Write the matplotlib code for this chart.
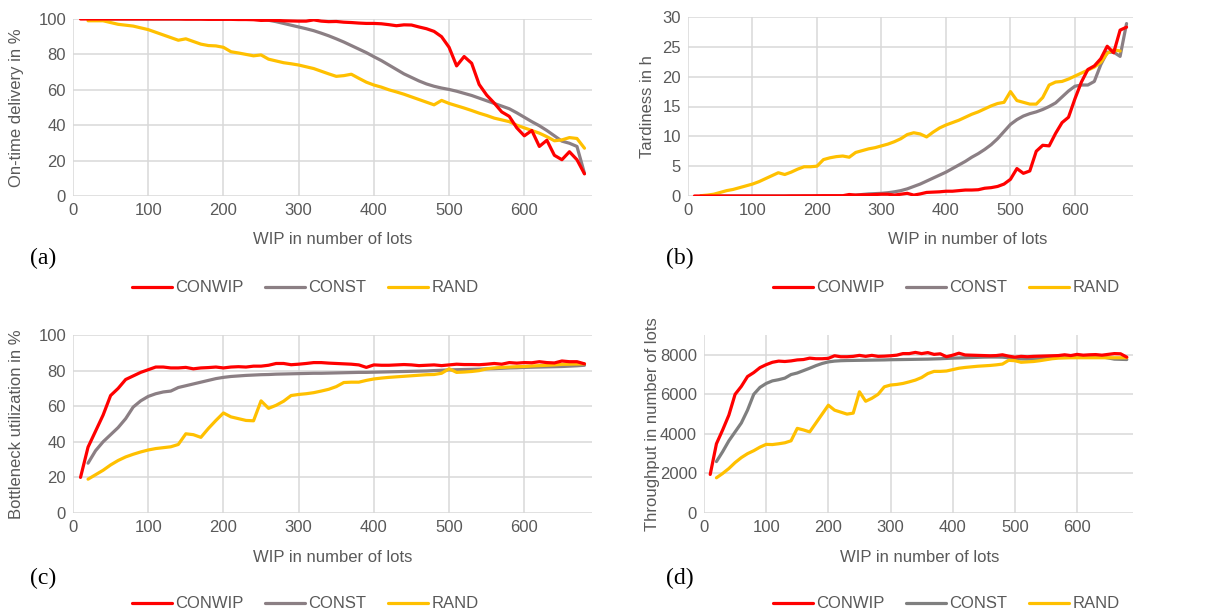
import numpy as np
import matplotlib
matplotlib.use("Agg")
import matplotlib.pyplot as plt

nan = np.nan
wip = list(range(10, 690, 10))  # 10 .. 680

# ---------------- (a) On-time delivery in % ----------------
a_conwip = [100, 100, 100, 100, 100, 100, 100, 100, 100, 100,
            100, 100, 100, 100, 99.9, 99.9, 99.9, 99.8, 99.8, 99.8,
            99.8, 99.7, 99.7, 99.6, 99.2, 99.3, 99.2, 99.0, 98.9, 98.8,
            98.8, 99.5, 98.8, 98.5, 98.6, 98.2, 98.0, 97.7, 97.5, 97.5,
            97.3, 96.8, 96.2, 96.7, 96.6, 95.5, 94.5, 93.0, 90.0, 84.0,
            73.5, 78.8, 75.0, 63.0, 57.0, 52.5, 47.5, 45.0, 38.5, 34.0,
            37.0, 28.0, 31.5, 23.0, 20.5, 25.0, 20.5, 12.5]
a_const = [nan, 100, 100, 100, 100, 100, 100, 100, 100, 100,
           100, 100, 100, 100, 100, 100, 100, 100, 100, 100,
           100.2, 100.4, 100.5, 100.5, 100.3, 99.3, 98.5, 97.5, 96.5, 95.5,
           94.5, 93.4, 92.0, 90.5, 88.8, 87.0, 85.0, 83.0, 81.0, 78.7,
           76.5, 74.0, 71.5, 69.0, 67.0, 65.0, 63.3, 62.0, 61.0, 60.2,
           59.2, 58.0, 56.8, 55.3, 53.8, 52.3, 50.8, 49.3, 47.0, 44.5,
           42.0, 39.7, 37.0, 34.0, 31.0, 29.8, 28.0, 12.8]
a_rand = [nan, 99, 99, 99, 98, 97, 96.5, 96, 95, 94,
          92.5, 91, 89.5, 88, 88.8, 87.3, 85.8, 85, 84.8, 84,
          81.5, 80.8, 80, 79.2, 79.7, 77.3, 76.3, 75.3, 74.7, 74,
          73, 72, 70.5, 69, 67.6, 68, 68.8, 66.5, 64.3, 62.7,
          61.5, 60, 58.8, 57.5, 56, 54.5, 53, 51.5, 54, 52.3,
          51, 49.7, 48.3, 46.8, 45.5, 44, 43, 42, 40, 38.5,
          37, 35.5, 33.5, 31.2, 31.7, 33, 32.5, 27]

# ---------------- (b) Tardiness in h ----------------
b_conwip = [0, 0, 0, 0, 0, 0, 0, 0, 0, 0,
            0, 0, 0, 0, 0, 0.02, 0.02, 0.03, 0.03, 0.04,
            0.05, 0.05, 0.05, 0.05, 0.25, 0.15, 0.2, 0.2, 0.25, 0.3,
            0.3, 0.15, 0.3, 0.45, 0.15, 0.35, 0.6, 0.65, 0.7, 0.8,
            0.8, 0.9, 1.0, 1.0, 1.05, 1.3, 1.4, 1.6, 2.0, 2.8,
            4.6, 3.8, 4.2, 7.5, 8.5, 8.4, 10.5, 12.3, 13.2, 16.3,
            19.1, 21.2, 21.8, 23.0, 25.1, 24.0, 27.8, 28.3]
b_const = [nan, 0, 0, 0, 0, 0, 0, 0, 0, 0,
           0, 0, 0, 0, 0, 0, 0, 0, 0, 0,
           0, 0, 0, 0.02, 0.05, 0.15, 0.25, 0.35, 0.4, 0.45,
           0.55, 0.7, 0.9, 1.2, 1.6, 2.0, 2.5, 3.0, 3.5, 4.0,
           4.6, 5.2, 5.8, 6.5, 7.1, 7.8, 8.6, 9.6, 10.8, 12.0,
           12.8, 13.4, 13.8, 14.1, 14.5, 15.0, 15.6, 16.6, 17.6, 18.4,
           18.6, 18.6, 19.2, 22.0, 24.1, 24.1, 23.4, 28.9]
b_rand = [nan, 0.05, 0.15, 0.3, 0.6, 0.9, 1.1, 1.4, 1.7, 2.0,
          2.4, 2.9, 3.4, 3.9, 3.6, 4.0, 4.5, 4.9, 4.9, 5.0,
          6.1, 6.4, 6.6, 6.7, 6.5, 7.3, 7.6, 7.9, 8.1, 8.4,
          8.7, 9.1, 9.6, 10.3, 10.6, 10.4, 9.9, 10.7, 11.4, 11.9,
          12.3, 12.7, 13.2, 13.7, 14.1, 14.6, 15.1, 15.5, 15.7, 17.5,
          16.0, 15.7, 15.4, 15.4, 16.5, 18.6, 19.1, 19.2, 19.6, 20.1,
          20.6, 21.1, 21.6, 22.4, 23.9, 24.5, 24.3, nan]

# ---------------- (c) Bottleneck utilization in % ----------------
c_conwip = [20, 37, 46, 55, 66, 70, 75, 77, 79, 80.5,
            82, 82, 81.5, 81.5, 81.8, 81, 81.5, 81.7, 82, 81.5,
            82, 82.2, 82, 82.5, 82.5, 83, 84, 84, 83.3, 83.6,
            84, 84.5, 84.5, 84.2, 84, 83.8, 83.6, 83.2, 81.8, 83.2,
            83, 83, 83.2, 83.4, 83.2, 82.8, 83, 83.2, 82.8, 83.2,
            83.6, 83.4, 83.4, 83.3, 83.6, 84, 83.6, 84.5, 84.2, 84.5,
            84.4, 85, 84.5, 84.3, 85.4, 85, 85, 83.8]
c_const = [nan, 28, 35, 40, 44, 48, 53, 59.5, 63, 65.5,
           67, 68, 68.5, 70.5, 71.5, 72.5, 73.5, 74.5, 75.5, 76.2,
           76.7, 77, 77.3, 77.5, 77.7, 77.8, 78, 78.1, 78.2, 78.3,
           78.4, 78.5, 78.5, 78.6, 78.7, 78.8, 78.9, 79, 79, 79.1,
           79.2, 79.3, 79.4, 79.5, 79.6, 79.7, 79.8, 80, 80.2, 80.4,
           80.5, 80.6, 80.7, 80.8, 81, 81.1, 81.3, 81.5, 81.6, 81.8,
           81.9, 82, 82.1, 82.2, 82.3, 82.5, 82.7, 83]
c_rand = [nan, 19, 21.5, 24, 27, 29.5, 31.5, 33, 34.3, 35.4,
          36.2, 36.7, 37.2, 38.5, 44.5, 44, 42.5, 47.5, 52, 56.2,
          54, 53, 52, 51.8, 63, 58.8, 60.5, 62.8, 66, 66.6,
          67, 67.6, 68.5, 69.5, 71, 73.3, 73.5, 73.5, 74.5, 75.3,
          75.8, 76.2, 76.5, 76.8, 77.1, 77.4, 77.7, 77.8, 78.5, 81,
          79, 79.2, 79.5, 80, 81, 81.5, 81.8, 82, 82.2, 82.3,
          82.6, 82.8, 83, 83.2, 83.5, 83.6, 83.7, 83.8]

# ---------------- (d) Throughput in number of lots ----------------
d_conwip = [1950, 3500, 4200, 4950, 6000, 6400, 6900, 7100, 7350, 7500,
            7620, 7680, 7660, 7690, 7740, 7760, 7830, 7800, 7800, 7820,
            7950, 7900, 7900, 7920, 7970, 7920, 7970, 7920, 7930, 7950,
            7980, 8060, 8060, 8120, 8060, 8110, 8020, 8050, 7900, 7980,
            8080, 7990, 7980, 7970, 7960, 7950, 7960, 8000, 7930, 7880,
            7920, 7900, 7920, 7930, 7940, 7950, 7960, 8000, 7960, 8020,
            7980, 8000, 8010, 7980, 8020, 8060, 8050, 7880]
d_const = [nan, 2600, 3100, 3650, 4100, 4550, 5200, 6000, 6350, 6550,
           6680, 6740, 6820, 7000, 7080, 7200, 7320, 7450, 7560, 7640,
           7680, 7700, 7710, 7715, 7720, 7725, 7730, 7735, 7740, 7750,
           7755, 7760, 7765, 7770, 7775, 7780, 7790, 7800, 7815, 7830,
           7840, 7850, 7860, 7870, 7880, 7885, 7885, 7880, 7850, 7800,
           7790, 7780, 7790, 7800, 7830, 7860, 7880, 7900, 7910, 7920,
           7930, 7930, 7920, 7900, 7840, 7780, 7770, 7760]
d_rand = [nan, 1780, 2000, 2250, 2550, 2800, 3000, 3150, 3330, 3470,
          3460, 3500, 3550, 3650, 4280, 4200, 4100, 4550, 5000, 5450,
          5200, 5100, 5000, 5050, 6130, 5650, 5800, 6000, 6380, 6470,
          6500, 6550, 6630, 6720, 6850, 7050, 7160, 7160, 7180, 7250,
          7320, 7360, 7390, 7420, 7440, 7460, 7490, 7530, 7720, 7700,
          7620, 7640, 7660, 7700, 7750, 7800, 7830, 7840, 7850, 7850,
          7850, 7850, 7850, 7850, 7850, 7850, 7850, 7850]

series_names = ["CONWIP", "CONST", "RAND"]
panel_letters = ["(a)", "(b)", "(c)", "(d)"]
y_labels = ["On-time delivery in %", "Tardiness in h",
            "Bottleneck utilization in %", "Throughput in number of lots"]
x_label = "WIP in number of lots"

RED = "#FF0000"
GRAY_MAUVE = "#8B7F84"
GRAY_D = "#7F7F7F"
YELLOW = "#FFC000"
GRID = "#D9D9D9"
TXT = "#595959"

W, H = 1225, 615
fig = plt.figure(figsize=(W / 100, H / 100), dpi=100)
plt.rcParams["font.family"] = ["Liberation Sans", "DejaVu Sans"]

def px_axes(left, right, top, bottom):
    return fig.add_axes([left / W, 1 - bottom / H, (right - left) / W, (bottom - top) / H])

panels = [
    dict(box=(73, 592, 19, 196), data=(a_conwip, a_const, a_rand), ylim=(0, 100),
         yticks=np.arange(0, 101, 20), gray=GRAY_MAUVE, ylab_x=17, letter=(30, 258),
         xlab=(333, 240), leg=(305, 288)),
    dict(box=(688, 1133, 17, 196), data=(b_conwip, b_const, b_rand), ylim=(0, 30),
         yticks=np.arange(0, 31, 5), gray=GRAY_MAUVE, ylab_x=648, letter=(666, 258),
         xlab=(968, 240), leg=(946, 288)),
    dict(box=(73, 592, 335, 513), data=(c_conwip, c_const, c_rand), ylim=(0, 100),
         yticks=np.arange(0, 101, 20), gray=GRAY_MAUVE, ylab_x=17, letter=(30, 578),
         xlab=(333, 557), leg=(305, 604)),
    dict(box=(704, 1133, 335, 513), data=(d_conwip, d_const, d_rand), ylim=(0, 9000),
         yticks=np.arange(0, 8001, 2000), gray=GRAY_D, ylab_x=652, letter=(666, 578),
         xlab=(920, 557), leg=(946, 604)),
]

for i, p in enumerate(panels):
    l, r, t, b = p["box"]
    ax = px_axes(l, r, t, b)
    colors = [RED, p["gray"], YELLOW]
    lines = []
    for name, ys, c in zip(series_names, p["data"], colors):
        ln, = ax.plot(wip, ys, color=c, lw=2.3, label=name, solid_joinstyle="round",
                      solid_capstyle="round", zorder=3 if c != RED else 4)
        lines.append(ln)
    ax.set_xlim(0, 690)
    ax.set_ylim(*p["ylim"])
    ax.set_xticks(np.arange(0, 601, 100))
    ax.set_yticks(p["yticks"])
    ax.grid(True, color=GRID, lw=1.1, zorder=0)
    ax.set_axisbelow(True)
    for s in ax.spines.values():
        s.set_visible(False)
    ax.tick_params(length=0, labelsize=12, labelcolor=TXT, pad=5)
    # y label
    fig.text(p["ylab_x"] / W, 1 - ((t + b) / 2) / H, y_labels[i], rotation=90,
             ha="center", va="center", fontsize=12, color=TXT)
    fig.text(p["xlab"][0] / W, 1 - p["xlab"][1] / H, x_label, ha="center", va="center",
             fontsize=12, color=TXT)
    fig.text(p["letter"][0] / W, 1 - p["letter"][1] / H, panel_letters[i], ha="left",
             va="center", fontsize=17, color="black", family="Liberation Serif")
    fig.legend(handles=lines, labels=series_names, loc="center",
               bbox_to_anchor=(p["leg"][0] / W, 1 - p["leg"][1] / H), ncol=3,
               frameon=False, fontsize=12, handlelength=2.4, handletextpad=0.2,
               columnspacing=1.3, labelcolor=TXT, borderaxespad=0, borderpad=0)

fig.savefig("out.png", dpi=100, facecolor="white")
